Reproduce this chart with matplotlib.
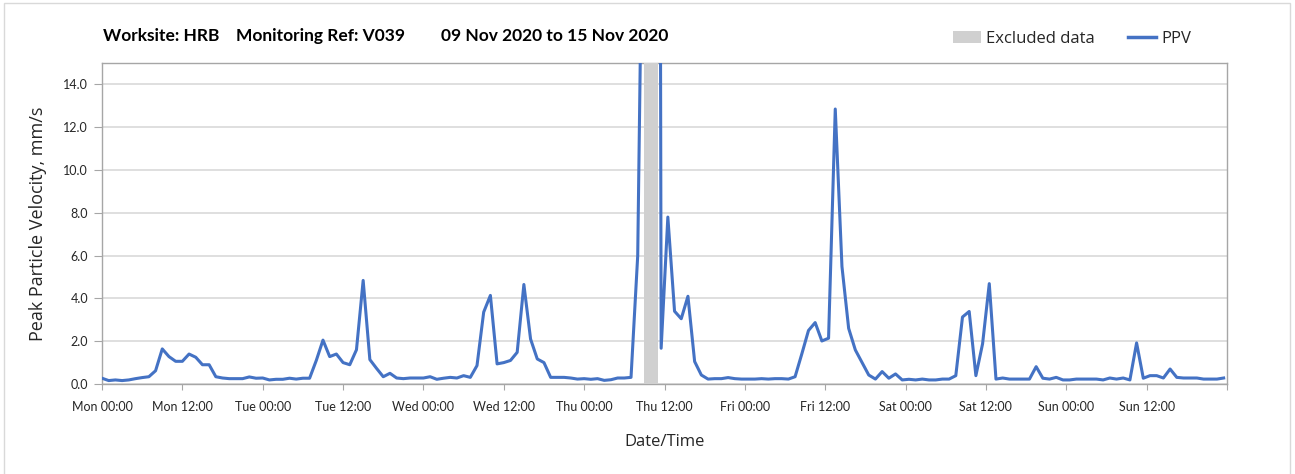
import matplotlib
matplotlib.use("Agg")
import matplotlib.pyplot as plt
import matplotlib.dates as mdates
from matplotlib.patches import Patch, Rectangle
from matplotlib.lines import Line2D
import pandas as pd
import numpy as np

# ---------------- data ----------------
title_parts = ["Worksite: HRB", "Monitoring Ref: V039", "09 Nov 2020 to 15 Nov 2020"]
y_label = "Peak Particle Velocity, mm/s"
x_label = "Date/Time"

# hourly PPV before the excluded period (starting Mon 09 Nov 00:00)
ppv_before = [
    0.27, 0.16, 0.19, 0.16, 0.19, 0.25, 0.30, 0.34, 0.62, 1.64,
    1.28, 1.06, 1.06, 1.40, 1.25, 0.90, 0.90, 0.34, 0.28, 0.25,
    0.25, 0.25, 0.33, 0.27, 0.28, 0.19, 0.22, 0.22, 0.27, 0.23,
    0.27, 0.27, 1.10, 2.05, 1.28, 1.40, 1.00, 0.90, 1.60, 4.84,
    1.14, 0.73, 0.34, 0.50, 0.28, 0.25, 0.28, 0.28, 0.28, 0.34,
    0.22, 0.27, 0.31, 0.28, 0.39, 0.31, 0.86, 3.36, 4.14, 0.94,
    1.00, 1.10, 1.48, 4.65, 2.10, 1.17, 1.00, 0.31, 0.31, 0.31,
    0.28, 0.23, 0.25, 0.22, 0.25, 0.17, 0.20, 0.28, 0.28, 0.31,
    6.00, 30.0,
]
start_before = "2020-11-09 00:00"

# hourly PPV after the excluded period (starting Thu 12 Nov 10:30)
ppv_after = [
    150.0, 1.67, 7.80, 3.40, 3.05, 4.10, 1.05, 0.42, 0.23, 0.25,
    0.25, 0.30, 0.25, 0.23, 0.23, 0.23, 0.25, 0.23, 0.25, 0.25,
    0.23, 0.34, 1.40, 2.50, 2.87, 2.01, 2.14, 12.85, 5.49, 2.60,
    1.59, 1.00, 0.42, 0.23, 0.58, 0.27, 0.47, 0.19, 0.22, 0.19,
    0.23, 0.19, 0.19, 0.23, 0.23, 0.39, 3.13, 3.39, 0.39, 1.88,
    4.69, 0.23, 0.28, 0.23, 0.23, 0.23, 0.23, 0.81, 0.27, 0.23,
    0.31, 0.19, 0.19, 0.23, 0.23, 0.23, 0.23, 0.19, 0.28, 0.23,
    0.28, 0.19, 1.92, 0.27, 0.39, 0.39, 0.28, 0.70, 0.31, 0.28,
    0.28, 0.28, 0.23, 0.23, 0.23, 0.28,
]
start_after = "2020-11-12 10:30"

excluded_start = "2020-11-12 09:00"
excluded_end = "2020-11-12 11:00"

x_start = "2020-11-09 00:00"
x_end = "2020-11-16 00:00"
y_ticks = [0, 2, 4, 6, 8, 10, 12, 14]

# ---------------- styling ----------------
blue = "#4472C4"
band_grey = "#D0D0D0"
grid_grey = "#D9D9D9"
axis_grey = "#A6A6A6"
text_col = "#262626"
label_font = ["Open Sans", "DejaVu Sans"]
plt.rcParams["font.family"] = ["Lato", "DejaVu Sans"]

times_before = pd.date_range(start_before, periods=len(ppv_before), freq="h")
times_after = pd.date_range(start_after, periods=len(ppv_after), freq="h")
times = list(times_before) + list(times_after)
values = ppv_before + ppv_after

fig = plt.figure(figsize=(12.95, 4.74), dpi=100)
fig.patches.append(Rectangle((0.003, -0.05), 0.993, 1.044, transform=fig.transFigure,
                             fill=False, edgecolor="#D9D9D9", linewidth=1.0))
ax = fig.add_axes([102 / 1295, 1 - 384 / 474, (1227 - 102) / 1295, (384 - 63) / 474])

ax.plot(times, values, color=blue, linewidth=2.2, zorder=3, solid_joinstyle="round")
ax.axvspan(pd.Timestamp(excluded_start), pd.Timestamp(excluded_end),
           color=band_grey, zorder=4, linewidth=0)

ax.set_xlim(pd.Timestamp(x_start), pd.Timestamp(x_end))
ax.set_ylim(0, 15)
ax.set_yticks(y_ticks)
ax.yaxis.set_major_formatter(matplotlib.ticker.FormatStrFormatter("%.1f"))

x_end_num = mdates.date2num(pd.Timestamp(x_end))


def fmt_x(v, pos):
    if v >= x_end_num - 1e-6:
        return ""
    return mdates.num2date(v).strftime("%a %H:%M")


ax.xaxis.set_major_locator(mdates.HourLocator(byhour=[0, 12]))
ax.xaxis.set_major_formatter(matplotlib.ticker.FuncFormatter(fmt_x))
ax.xaxis.set_minor_locator(mdates.DayLocator())

ax.grid(axis="y", color=grid_grey, linewidth=1.2, zorder=0)
ax.grid(axis="x", which="minor", color=grid_grey, linewidth=1.2, zorder=0)
ax.set_axisbelow(True)

for s in ax.spines.values():
    s.set_color(axis_grey)
    s.set_linewidth(1.0)

ax.tick_params(axis="x", which="major", length=4, color=axis_grey, labelsize=9,
               labelcolor=text_col, pad=8)
ax.tick_params(axis="x", which="minor", length=0)
ax.tick_params(axis="y", length=6, color=axis_grey, labelsize=9, labelcolor=text_col, pad=4)

ax.set_ylabel(y_label, fontsize=13, color=text_col, labelpad=12, family=label_font)
ax.set_xlabel(x_label, fontsize=12, color=text_col, labelpad=15, family=label_font)

title_x = [103, 236, 441]
for txt, xp in zip(title_parts, title_x):
    fig.text(xp / 1295, 1 - 36 / 474, txt, fontsize=12.5, fontweight="bold",
             color="#000000", ha="left", va="center")

handles = [Patch(facecolor=band_grey, edgecolor="none"),
           Line2D([0], [0], color=blue, linewidth=2.5)]
leg = fig.legend(handles, ["Excluded data", "PPV"], loc="center",
                 bbox_to_anchor=(1072 / 1295, 1 - 39 / 474), ncol=2, frameon=False,
                 prop={"family": label_font, "size": 12}, handlelength=1.7,
                 handletextpad=0.3, columnspacing=2.0, handleheight=0.7)
for t in leg.get_texts():
    t.set_color(text_col)

fig.savefig("out.png", dpi=100, facecolor="white")
